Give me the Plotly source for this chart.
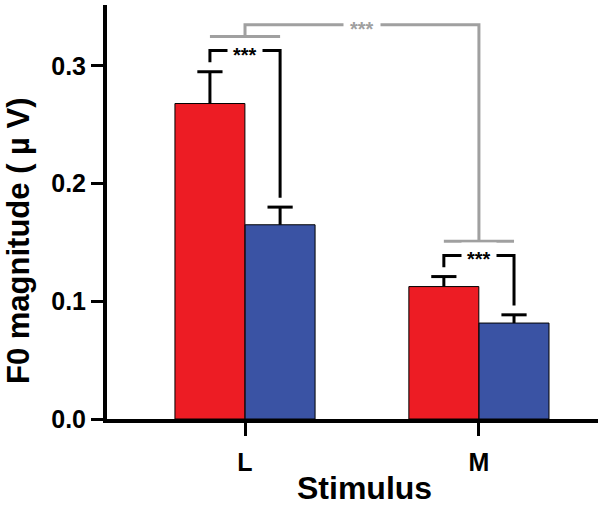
import plotly.graph_objects as go

categories = ["L", "M"]
red_means = [0.268, 0.1125]
red_err = [0.027, 0.0085]
blue_means = [0.165, 0.0815]
blue_err = [0.015, 0.007]
y_ticks = [0.0, 0.1, 0.2, 0.3]
sig_label = "***"

RED = "rgb(237,28,36)"
BLUE = "rgb(58,83,164)"
GRAY = "rgb(160,160,160)"
FONT = "Liberation Sans, Arial, sans-serif"

pos = list(range(len(categories)))
off = 0.15
bw = 0.299

fig = go.Figure()
for xs, means, errs, col in [([p - off for p in pos], red_means, red_err, RED),
                             ([p + off for p in pos], blue_means, blue_err, BLUE)]:
    fig.add_trace(go.Bar(
        x=xs, y=means, width=bw,
        marker=dict(color=col, line=dict(color="black", width=1)),
        showlegend=False))
    # error bars (upper only): stem + cap
    ex, ey = [], []
    for x, m, e in zip(xs, means, errs):
        ex += [x, x, None]
        ey += [m, m + e, None]
    fig.add_trace(go.Scatter(x=ex, y=ey, mode="lines",
                             line=dict(color="black", width=3),
                             hoverinfo="skip", showlegend=False))
    fig.add_trace(go.Scatter(x=xs, y=[m + e for m, e in zip(means, errs)],
                             mode="markers",
                             marker=dict(symbol="line-ew-open", size=18, color="black",
                                         line=dict(color="black", width=3)),
                             hoverinfo="skip", showlegend=False))

# significance brackets derived from bar tops
leg_pad = 0.008
br_pad = 0.018
gray_pad = 0.012
top_pad = 0.010
gray_levels = []
for i, p in enumerate(pos):
    rt = red_means[i] + red_err[i]
    bt = blue_means[i] + blue_err[i]
    yb = max(rt, bt) + br_pad
    fig.add_trace(go.Scatter(
        x=[p - off, p - off, p + off, p + off],
        y=[rt + leg_pad, yb, yb, bt + leg_pad],
        mode="lines", line=dict(color="black", width=3),
        hoverinfo="skip", showlegend=False))
    fig.add_annotation(x=p, y=yb, text=sig_label, showarrow=False,
                       font=dict(family=FONT, size=20, color="black", weight="bold"),
                       bgcolor="white", borderpad=5, yshift=-4, yanchor="middle")
    gray_levels.append(yb + gray_pad)

g0, g1 = gray_levels
gtop = g0 + top_pad
fig.add_trace(go.Scatter(
    x=[pos[0] - off, pos[0] + off, None, pos[0], pos[0], pos[1], pos[1], None,
       pos[1] - off, pos[1] + off],
    y=[g0, g0, None, g0, gtop, gtop, g1, None, g1, g1],
    mode="lines", line=dict(color=GRAY, width=3),
    hoverinfo="skip", showlegend=False))
fig.add_annotation(x=(pos[0] + pos[1]) / 2, y=gtop, text=sig_label, showarrow=False,
                   font=dict(family=FONT, size=20, color=GRAY, weight="bold"),
                   bgcolor="white", borderpad=6, yshift=-4, yanchor="middle")

fig.update_layout(
    width=604, height=505,
    margin=dict(l=107, r=6, t=5, b=86, autoexpand=False),
    plot_bgcolor="white", paper_bgcolor="white",
    font=dict(family=FONT, color="black"),
    xaxis=dict(range=[-0.59, 1.509], tickvals=pos, ticktext=categories,
               showline=True, linecolor="black", linewidth=4,
               ticks="outside", ticklen=13, tickwidth=3, tickcolor="black",
               ticklabelstandoff=5,
               tickfont=dict(family=FONT, size=25, weight="bold"),
               showgrid=False, zeroline=False, fixedrange=True),
    yaxis=dict(range=[0, 0.3517], tickvals=y_ticks, tickformat=".1f",
               showline=True, linecolor="black", linewidth=4,
               ticks="outside", ticklen=12, tickwidth=3, tickcolor="black",
               tickfont=dict(family=FONT, size=25, weight="bold"),
               showgrid=False, zeroline=False, fixedrange=True),
)
fig.add_annotation(text="Stimulus", xref="paper", yref="paper",
                   x=(364.5 - 107) / 491, y=-(488 - 419) / 414, showarrow=False,
                   font=dict(family=FONT, size=32, weight="bold"),
                   xanchor="center", yanchor="middle")
fig.add_annotation(text="F0 magnitude ( µ V)", xref="paper", yref="paper",
                   x=-(107 - 18) / 491, y=(419 - 241) / 414, showarrow=False,
                   textangle=-90,
                   font=dict(family=FONT, size=31, weight="bold"),
                   xanchor="center", yanchor="middle")

fig.write_html("out.html", config={"displayModeBar": False},
               post_script="document.body.style.margin='0';")
